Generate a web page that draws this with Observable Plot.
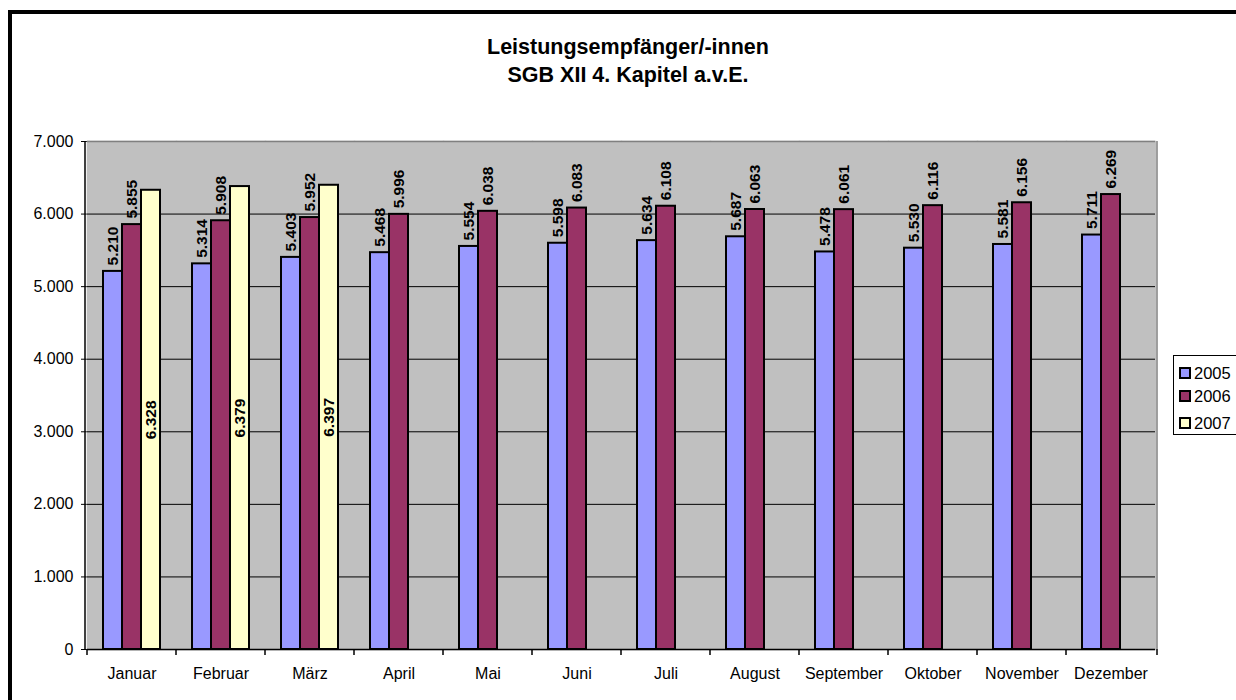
<!DOCTYPE html>
<html><head><meta charset="utf-8">
<script src="https://cdn.jsdelivr.net/npm/d3@7"></script>
<script src="https://cdn.jsdelivr.net/npm/@observablehq/plot@0.6"></script>
<style>
html,body{margin:0;padding:0;background:#fff;overflow:hidden;}
#wrap{position:relative;width:1236px;height:700px;overflow:hidden;font-family:"Liberation Sans",Arial,sans-serif;color:#000;}
#border{position:absolute;left:8px;top:10px;width:1300px;height:800px;border:4px solid #000;box-sizing:border-box;}
#title{position:absolute;left:10px;top:33px;width:1236px;text-align:center;font-weight:bold;font-size:21.5px;line-height:28px;}
#chart{position:absolute;left:0;top:100px;}
#legend{position:absolute;left:1173px;top:355px;width:90px;height:80px;border:1px solid #000;background:#fff;box-sizing:border-box;}
.row{position:absolute;left:5px;height:20px;display:flex;align-items:center;font-size:16.5px;}
.sw{width:8px;height:8px;border:2px solid #000;margin-right:3px;}
</style></head>
<body>
<div id="wrap">
  <div id="border"></div>
  <div id="title">Leistungsempfänger/-innen<br>SGB XII 4. Kapitel a.v.E.</div>
  <div id="chart"></div>
  <div id="legend"></div>
</div>
<script>
const months = ["Januar","Februar","März","April","Mai","Juni","Juli","August","September","Oktober","November","Dezember"];
const years = ["2005","2006","2007"];
const v2005 = [5210,5314,5403,5468,5554,5598,5634,5687,5478,5530,5581,5711];
const v2006 = [5855,5908,5952,5996,6038,6083,6108,6063,6061,6116,6156,6269];
const v2007 = [6328,6379,6397];
const colors = ["#9999FF","#993366","#FFFFCC"];
const yTicks = [0,1000,2000,3000,4000,5000,6000,7000];
const gridValues = [1000,2000,3000,4000,5000,6000];

const series = [v2005, v2006, v2007];
const data = [];
series.forEach((vals, i) => vals.forEach((v, j) => data.push({month: months[j], year: years[i], value: v})));

const de = d3.formatLocale({decimal: ",", thousands: ".", grouping: [3], currency: ["", "€"]});
const fmt = de.format(",");

const outside = data.filter(d => d.year !== "2007");
const inside = data.filter(d => d.year === "2007");

const chart = Plot.plot({
  width: 1236, height: 600,
  marginTop: 41, marginBottom: 51, marginLeft: 85, marginRight: 79,
  style: {fontFamily: '"Liberation Sans", Arial, sans-serif', fontSize: "16px", color: "#000", background: "transparent", overflow: "visible"},
  fx: {domain: months, padding: 0, label: null, axis: "bottom", tickSize: 0, tickPadding: 18},
  x: {domain: years, paddingInner: 0, paddingOuter: 0.733, axis: null},
  y: {domain: [0, 7000], ticks: yTicks, tickFormat: fmt, tickSize: 6, tickPadding: 8, label: null},
  color: {domain: years, range: colors},
  marks: [
    Plot.frame({fill: "#c0c0c0", stroke: "#c0c0c0", strokeWidth: 1.5}),
    Plot.ruleY(gridValues, {stroke: "#000", strokeWidth: 1}),
    Plot.ruleY([7000], {stroke: "#808080", strokeWidth: 1.5}),
    Plot.barY(data, {fx: "month", x: "year", y: "value", fill: "year", stroke: "#000", strokeWidth: 2, inset: 0}),
    Plot.text(outside, {fx: "month", x: "year", y: "value", text: d => fmt(d.value), rotate: -90, textAnchor: "start", dy: -6, fontWeight: "bold", fontSize: 15.5, fill: "#000"}),
    Plot.text(inside, {fx: "month", x: "year", y: d => d.value / 2, text: d => fmt(d.value), rotate: -90, textAnchor: "middle", fontWeight: "bold", fontSize: 15.5, fill: "#000"}),
    Plot.ruleY([0], {stroke: "#000", strokeWidth: 1.5})
  ]
});
document.getElementById("chart").appendChild(chart);

// axis line, right border and category boundary ticks from the chart's scales
const fx = chart.scale("fx");
const y = chart.scale("y");
const svg = d3.select(chart);
const x0 = fx.range[0], x1 = fx.range[1];
const yTop = y.apply(7000), yBot = y.apply(0);
const g = svg.append("g");
g.append("line").attr("x1", x1).attr("x2", x1).attr("y1", yTop).attr("y2", yBot).attr("stroke", "#808080").attr("stroke-width", 1.5);
g.append("line").attr("x1", x0).attr("x2", x0).attr("y1", yTop).attr("y2", yBot).attr("stroke", "#000").attr("stroke-width", 1.5);
const bounds = months.map(m => fx.apply(m)).concat([x1]);
bounds.forEach(b => g.append("line").attr("x1", b).attr("x2", b).attr("y1", yBot).attr("y2", yBot + 6).attr("stroke", "#000").attr("stroke-width", 1.5));

// legend
const legend = document.getElementById("legend");
const rowTops = [7, 30, 57];
years.forEach((yr, i) => {
  const r = document.createElement("div");
  r.className = "row";
  r.style.top = rowTops[i] + "px";
  r.innerHTML = `<div class="sw" style="background:${colors[i]}"></div><span>${yr}</span>`;
  legend.appendChild(r);
});
</script>
</body></html>
